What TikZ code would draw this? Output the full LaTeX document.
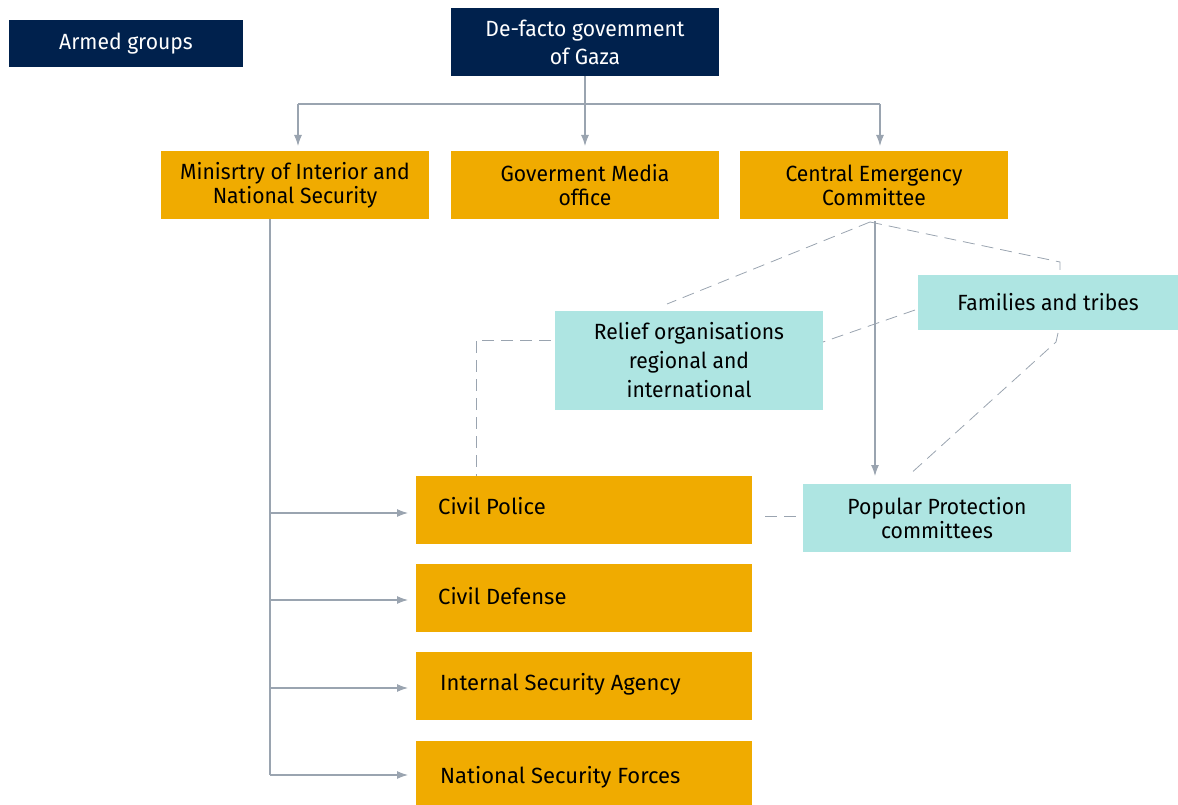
\documentclass[tikz,border=0pt]{standalone}
\usepackage{fontspec}
\setmainfont{Fira Sans}[FakeStretch=0.96]
\newfontfamily\widefont{Fira Sans}
\usetikzlibrary{arrows.meta}
\definecolor{navy}{HTML}{00214D}
\definecolor{gold}{HTML}{F0AB00}
\definecolor{teal}{HTML}{AEE5E2}
\definecolor{line}{HTML}{9AA4B0}
\tikzset{
  bx/.style={inner sep=0pt, outer sep=0pt, align=center, font=\fontsize{22}{24}\selectfont},
  navybox/.style={bx, fill=navy, text=white},
  goldbox/.style={bx, fill=gold, text=black},
  tealbox/.style={bx, fill=teal, text=black},
  conn/.style={draw=line, line width=1.1pt, -{Latex[length=11pt,width=8pt]}},
  plain/.style={draw=line, line width=1.1pt},
  dsh/.style={draw=line, line width=0.8pt, dash pattern=on 12pt off 7pt},
  lbl/.style={anchor=west, inner sep=0pt, font=\widefont\fontsize{22}{24}\selectfont},
}
\begin{document}
\begin{tikzpicture}[x=1pt,y=-1pt]
\useasboundingbox (0,0) rectangle (1178,805);
% boxes
\node[navybox, minimum width=234pt, minimum height=47pt] (armed) at (126,43.5) {Armed groups};
\node[navybox, minimum width=268pt, minimum height=68pt, font=\fontsize{22}{28}\selectfont] (gov) at (585,42) {De-facto govemment\\of Gaza};
\node[goldbox, minimum width=268pt, minimum height=68pt] (moi) at (295,185) {Minisrtry of Interior and\\National Security};
\node[goldbox, minimum width=268pt, minimum height=68pt] (media) at (585,185) {Goverment Media\\office};
\node[goldbox, minimum width=268pt, minimum height=68pt] (cec) at (874,185) {Central Emergency\\Committee};
\node[tealbox, minimum width=260pt, minimum height=55pt] (fam) at (1048,302.5) {Families and tribes};
\node[tealbox, minimum width=268pt, minimum height=99pt, font=\fontsize{22}{29}\selectfont] (relief) at (689,360.5) {Relief organisations\\regional and\\international};
\node[tealbox, minimum width=268pt, minimum height=68pt] (ppc) at (937,518) {Popular Protection\\committees};
\node[goldbox, minimum width=336pt, minimum height=68pt] (police) at (584,510) {};
\node[goldbox, minimum width=336pt, minimum height=68pt] (defense) at (584,598) {};
\node[goldbox, minimum width=336pt, minimum height=68pt] (isa) at (584,686) {};
\node[goldbox, minimum width=336pt, minimum height=64pt] (nsf) at (584,773) {};
\node[lbl] (policeT) at (438,506) {Civil Police};
\node[lbl] (defenseT) at (438,596) {Civil Defense};
\node[lbl] (isaT) at (440,684) {Internal Security Agency};
\node[lbl] (nsfT) at (440,777) {National Security Forces};
% coordinates
\coordinate (g1) at (585,104);
\coordinate (gl) at (298,104);
\coordinate (gr) at (880,104);
\coordinate (m0) at (270,219);
\coordinate (m1) at (270,513);
\coordinate (m2) at (270,600);
\coordinate (m3) at (270,688);
\coordinate (m4) at (270,775);
% solid connectors
\draw[plain] (gov.south) -- (g1);
\draw[plain] (gl) -- (gr);
\draw[conn] (gl) -- (298,146);
\draw[conn] (g1) -- (585,146);
\draw[conn] (gr) -- (880,146);
\draw[plain] (m0) -- (m4);
\draw[conn] (m1) -- (408,513);
\draw[conn] (m2) -- (408,600);
\draw[conn] (m3) -- (408,688);
\draw[conn] (m4) -- (408,775);
\coordinate (c0) at (875,221);
\coordinate (c1) at (875,476);
\draw[conn] (c0) -- (c1);
% dashed connectors
\coordinate (d0) at (870,222);
\coordinate (d1) at (667,304);
\coordinate (d2) at (1060,262);
\draw[dsh] (d0) -- (d1);
\draw[dsh] (d0) -- (d2) -- (1060,275);
\draw[dsh] (915,310) -- (823,342);
\draw[dsh] (1058,333) -- (1056,342) -- (908,476);
\draw[dsh] (551,340) -- (476,340) -- (476,476);
\draw[dsh] (765,516) -- (800,516);
\end{tikzpicture}
\end{document}
